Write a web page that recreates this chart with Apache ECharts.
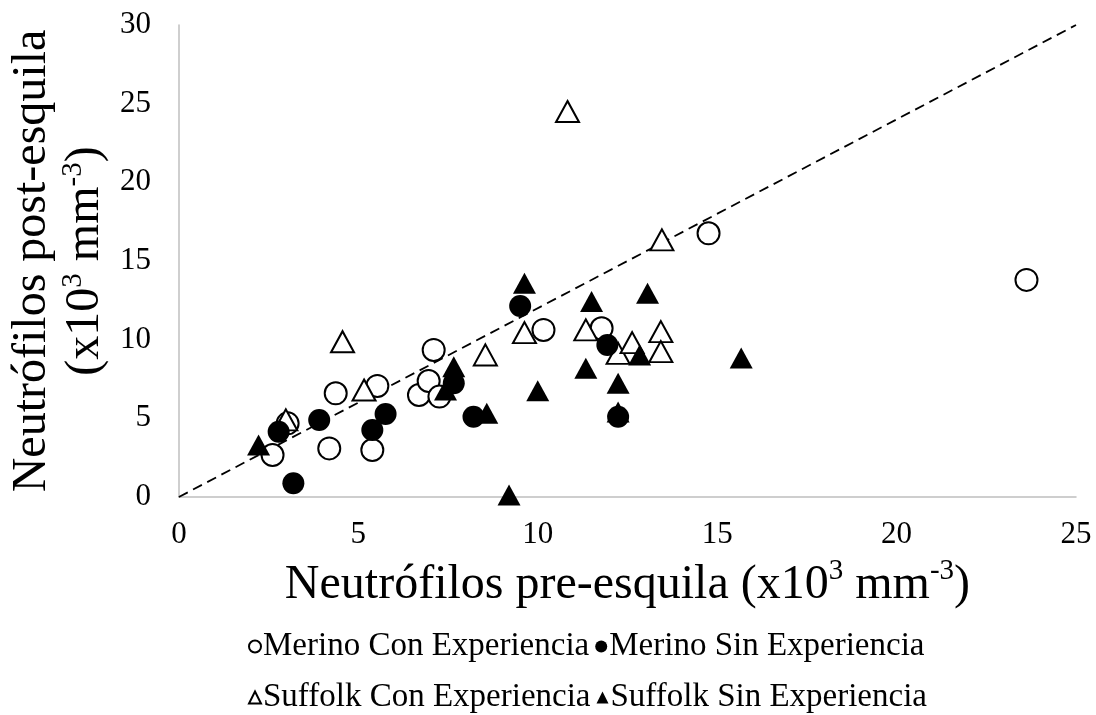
<!DOCTYPE html>
<html>
<head>
<meta charset="utf-8">
<script src="https://cdn.jsdelivr.net/npm/echarts@6/dist/echarts.min.js"></script>
<style>
html,body{margin:0;padding:0;background:#fff;}
#chart{width:1096px;height:715px;}
</style>
</head>
<body>
<div id="chart"></div>
<script>
var seriesNames = ['Merino Con Experiencia', 'Merino Sin Experiencia', 'Suffolk Con Experiencia', 'Suffolk Sin Experiencia'];
var xTicks = [0, 5, 10, 15, 20, 25];
var yTicks = [0, 5, 10, 15, 20, 25, 30];

var merinoCon = [[2.61,2.67],[3.03,4.68],[4.19,3.09],[4.37,6.59],[5.39,2.99],[5.53,7.06],[6.69,6.48],[6.96,7.37],[7.1,9.35],[7.26,6.38],[10.16,10.62],[11.78,10.72],[14.76,16.76],[23.62,13.8]];
var merinoSin = [[2.78,4.15],[3.19,0.87],[3.91,4.9],[5.39,4.26],[5.76,5.28],[7.66,7.23],[8.21,5.1],[9.51,12.14],[11.94,9.66],[12.24,5.1]];
var suffolkCon = [[2.98,4.9],[4.56,9.87],[5.16,6.8],[8.54,9.03],[9.63,10.45],[10.83,24.5],[11.34,10.62],[12.24,9.13],[12.63,9.81],[13.43,10.51],[13.43,9.24],[13.46,16.34]];
var suffolkSin = [[2.22,3.3],[7.43,6.8],[7.66,8.28],[8.58,5.32],[9.2,0.13],[9.63,13.58],[10.0,6.76],[11.34,8.18],[11.5,12.42],[12.24,7.23],[12.24,5.4],[12.84,9.03],[13.06,12.95],[15.67,8.84]];
var refLine = [[0,0],[25,30]];

var FONT = '"Liberation Serif", "Times New Roman", serif';
var chart = echarts.init(document.getElementById('chart'));

var openStyle = {color:'#ffffff', borderColor:'#000000', borderWidth:2, opacity:1};
var fillStyle = {color:'#000000', borderColor:'#000000', borderWidth:0, opacity:1};

chart.setOption({
  animation: false,
  backgroundColor: '#ffffff',
  textStyle: {fontFamily: FONT, color: '#000'},
  grid: {left: 176, right: 20, top: 25, bottom: 218, containLabel: false},
  xAxis: {
    type: 'value', min: xTicks[0], max: xTicks[xTicks.length-1], interval: 5,
    axisLine: {show: true, lineStyle: {color: '#bfbfbf', width: 1.5}},
    axisTick: {show: false},
    splitLine: {show: false},
    axisLabel: {fontFamily: FONT, fontSize: 31, color: '#000', margin: 22},
    name: '{t|Neutrófilos pre-esquila (x10}{s|3}{t| mm}{s|-3}{t|)}',
    nameLocation: 'middle', nameGap: 60,
    nameTextStyle: {
      rich: {
        t: {fontFamily: FONT, fontSize: 48, color: '#000', lineHeight: 52, verticalAlign: 'bottom'},
        s: {fontFamily: FONT, fontSize: 29, color: '#000', lineHeight: 52, verticalAlign: 'top'}
      }
    }
  },
  yAxis: {
    type: 'value', min: yTicks[0], max: yTicks[yTicks.length-1], interval: 5,
    axisLine: {show: true, lineStyle: {color: '#bfbfbf', width: 1.5}},
    axisTick: {show: false},
    splitLine: {show: false},
    axisLabel: {fontFamily: FONT, fontSize: 31, color: '#000', margin: 28},
    name: '{t|Neutrófilos post-esquila}\n{t|(x10}{s|3}{t| mm}{s|-3}{t|)}',
    nameLocation: 'middle', nameRotate: 90, nameGap: 66,
    nameTextStyle: {
      rich: {
        t: {fontFamily: FONT, fontSize: 48, color: '#000', lineHeight: 53},
        s: {fontFamily: FONT, fontSize: 29, color: '#000', lineHeight: 53, verticalAlign: 'top'}
      }
    }
  },
  legend: [
    {
      data: [seriesNames[0], seriesNames[1]],
      left: 243, top: 625, orient: 'horizontal',
      itemWidth: 12, itemHeight: 12, itemGap: 6,
      textStyle: {fontFamily: FONT, fontSize: 33, color: '#000', padding: [0,0,0,-3]}
    },
    {
      data: [seriesNames[2], seriesNames[3]],
      left: 243, top: 676, orient: 'horizontal',
      itemWidth: 12, itemHeight: 12, itemGap: 6,
      textStyle: {fontFamily: FONT, fontSize: 33, color: '#000', padding: [0,0,0,-3]}
    }
  ],
  series: [
    {
      name: 'ref', type: 'line', data: refLine, symbol: 'none', silent: true,
      lineStyle: {color: '#000', width: 1.8, type: [10, 6]}, z: 1
    },
    {name: seriesNames[0], type: 'scatter', symbol: 'circle', symbolSize: 22, data: merinoCon, itemStyle: openStyle, z: 2},
    {name: seriesNames[2], type: 'scatter', symbol: 'triangle', symbolSize: [23, 21], data: suffolkCon, itemStyle: openStyle, z: 3},
    {name: seriesNames[3], type: 'scatter', symbol: 'triangle', symbolSize: [23, 21], data: suffolkSin, itemStyle: fillStyle, z: 4},
    {name: seriesNames[1], type: 'scatter', symbol: 'circle', symbolSize: 22, data: merinoSin, itemStyle: fillStyle, z: 5}
  ]
});
</script>
</body>
</html>
